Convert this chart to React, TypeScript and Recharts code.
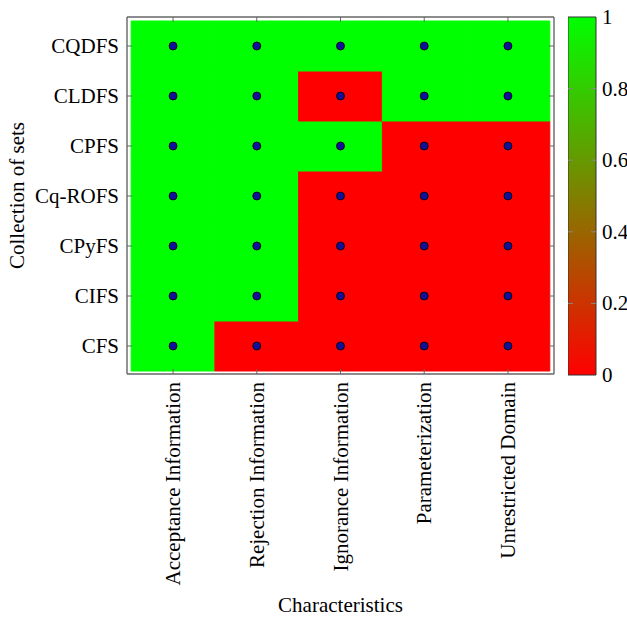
import React from 'react';
import { ComposedChart, BarChart, Bar, XAxis, YAxis, Scatter, ReferenceArea } from 'recharts';

const columns = ['Acceptance Information', 'Rejection Information', 'Ignorance Information', 'Parameterization', 'Unrestricted Domain'];
// bottom to top
const rows = ['CFS', 'CIFS', 'CPyFS', 'Cq-ROFS', 'CPFS', 'CLDFS', 'CQDFS'];
const CFS = [1, 0, 0, 0, 0];
const CIFS = [1, 1, 0, 0, 0];
const CPyFS = [1, 1, 0, 0, 0];
const CqROFS = [1, 1, 0, 0, 0];
const CPFS = [1, 1, 1, 0, 0];
const CLDFS = [1, 1, 0, 1, 1];
const CQDFS = [1, 1, 1, 1, 1];
const values = [CFS, CIFS, CPyFS, CqROFS, CPFS, CLDFS, CQDFS];
const colorbarTicks = [0, 0.2, 0.4, 0.6, 0.8, 1];
const colorbarData = [{ name: 'cb', v: 1 }];

const FONT = '"Liberation Serif", "Times New Roman", serif';
const FS = 21;
const FRAME = '#666';

const cells = values.flatMap((row, r) => row.map((v, c) => ({ x: c, y: r, v })));

const colorOf = (v: number) => {
  const r = Math.round(255 * (1 - v));
  const g = Math.round(255 * v);
  return `rgb(${r},${g},0)`;
};

const BottomTick = (props: any) => {
  const { x, y, payload } = props;
  return (
    <g>
      <line x1={x} y1={y} x2={x} y2={y - 5} stroke={FRAME} strokeWidth={1} />
      <text
        x={x}
        y={y + 8}
        transform={`rotate(-90, ${x}, ${y + 8})`}
        textAnchor="end"
        dominantBaseline="central"
        fontFamily={FONT}
        fontSize={FS}
        fill="#000"
      >
        {columns[payload.value]}
      </text>
    </g>
  );
};

const TopTick = (props: any) => {
  const { x, y } = props;
  return <line x1={x} y1={y} x2={x} y2={y + 5} stroke={FRAME} strokeWidth={1} />;
};

const LeftTick = (props: any) => {
  const { x, y, payload } = props;
  return (
    <g>
      <line x1={x} y1={y} x2={x + 5} y2={y} stroke={FRAME} strokeWidth={1} />
      <text x={x - 8} y={y} textAnchor="end" dominantBaseline="central" fontFamily={FONT} fontSize={FS} fill="#000">
        {rows[payload.value]}
      </text>
    </g>
  );
};

const RightTick = (props: any) => {
  const { x, y } = props;
  return <line x1={x} y1={y} x2={x - 5} y2={y} stroke={FRAME} strokeWidth={1} />;
};

const CBTick = (props: any) => {
  const { x, y, payload } = props;
  const inner = payload.value > 0 && payload.value < 1;
  return (
    <g>
      {inner && <line x1={x} y1={y} x2={x - 5} y2={y} stroke="#888" strokeWidth={1} />}
      {inner && <line x1={x - 28} y1={y} x2={x - 23} y2={y} stroke="#888" strokeWidth={1} />}
      <text x={x + 6} y={y} textAnchor="start" dominantBaseline="central" fontFamily={FONT} fontSize={FS} fill="#000">
        {String(payload.value)}
      </text>
    </g>
  );
};

const Dot = (props: any) => {
  const { cx, cy } = props;
  return <circle cx={cx} cy={cy} r={4} fill="#10109a" stroke="#000" strokeWidth={0.8} />;
};

export default function App() {
  return (
    <div style={{ position: 'absolute', left: 0, top: 0, width: 627, height: 618, background: '#fff' }}>
      <div style={{ position: 'absolute', left: 0, top: 0 }}>
        <ComposedChart width={627} height={618} margin={{ top: 16, right: 72, bottom: 243, left: 126 }}>
          <XAxis
            xAxisId={0}
            type="number"
            dataKey="x"
            domain={[-0.55, 4.55]}
            ticks={[0, 1, 2, 3, 4]}
            allowDataOverflow
            height={1}
            tickSize={0}
            tickMargin={0}
            tick={<BottomTick />}
            tickLine={false}
            axisLine={{ stroke: FRAME, strokeWidth: 1.4 }}
            interval={0}
            label={{
              content: (p: any) => {
                const vb = p.viewBox;
                return (
                  <text x={vb.x + vb.width / 2} y={612} textAnchor="middle" fontFamily={FONT} fontSize={FS} fill="#000">
                    Characteristics
                  </text>
                );
              },
            }}
          />
          <XAxis
            xAxisId="top"
            orientation="top"
            type="number"
            dataKey="x"
            domain={[-0.55, 4.55]}
            ticks={[0, 1, 2, 3, 4]}
            allowDataOverflow
            height={1}
            tickSize={0}
            tickMargin={0}
            tick={<TopTick />}
            tickLine={false}
            axisLine={{ stroke: FRAME, strokeWidth: 1.4 }}
            interval={0}
          />
          <YAxis
            yAxisId={0}
            type="number"
            dataKey="y"
            domain={[-0.56, 6.58]}
            ticks={[0, 1, 2, 3, 4, 5, 6]}
            allowDataOverflow
            width={1}
            tickSize={0}
            tickMargin={0}
            tick={<LeftTick />}
            tickLine={false}
            axisLine={{ stroke: FRAME, strokeWidth: 1.4 }}
            interval={0}
            label={{
              content: (p: any) => {
                const vb = p.viewBox;
                const cy = vb.y + vb.height / 2;
                return (
                  <text
                    x={17}
                    y={cy}
                    transform={`rotate(-90, 17, ${cy})`}
                    textAnchor="middle"
                    dominantBaseline="central"
                    fontFamily={FONT}
                    fontSize={FS}
                    fill="#000"
                  >
                    Collection of sets
                  </text>
                );
              },
            }}
          />
          <YAxis
            yAxisId="right"
            orientation="right"
            type="number"
            dataKey="y"
            domain={[-0.56, 6.58]}
            ticks={[0, 1, 2, 3, 4, 5, 6]}
            allowDataOverflow
            width={1}
            tickSize={0}
            tickMargin={0}
            tick={<RightTick />}
            tickLine={false}
            axisLine={{ stroke: FRAME, strokeWidth: 1.4 }}
            interval={0}
          />
          {cells.map((c) => (
            <ReferenceArea
              key={`${c.x}-${c.y}`}
              xAxisId={0}
              yAxisId={0}
              x1={c.x - 0.5}
              x2={c.x + 0.5}
              y1={c.y - 0.5}
              y2={c.y + 0.5}
              fill={colorOf(c.v)}
              fillOpacity={1}
              stroke={colorOf(c.v)}
              strokeWidth={1}
              ifOverflow="visible"
            />
          ))}
          <Scatter data={cells} xAxisId={0} yAxisId={0} dataKey="y" shape={<Dot />} isAnimationActive={false} />
        </ComposedChart>
      </div>
      <div style={{ position: 'absolute', left: 568, top: 0 }}>
        <BarChart width={59} height={618} data={colorbarData} margin={{ top: 17, right: 30, bottom: 243, left: 0 }} barCategoryGap={0}>
          <defs>
            <linearGradient id="cbGrad" x1="0" y1="1" x2="0" y2="0">
              <stop offset="0%" stopColor="#ff0000" />
              <stop offset="100%" stopColor="#00ff00" />
            </linearGradient>
          </defs>
          <XAxis dataKey="name" type="category" hide />
          <YAxis
            orientation="right"
            type="number"
            domain={[0, 1]}
            ticks={colorbarTicks}
            width={1}
            tickSize={0}
            tickMargin={0}
            tickLine={false}
            axisLine={false}
            tick={<CBTick />}
            interval={0}
          />
          <Bar dataKey="v" fill="url(#cbGrad)" stroke="#333" strokeWidth={1} isAnimationActive={false} />
        </BarChart>
      </div>
    </div>
  );
}
